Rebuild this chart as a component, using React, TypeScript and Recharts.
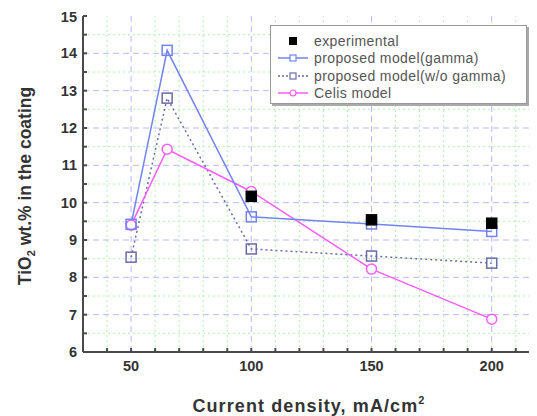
import React from "react"
import { LineChart, Line, XAxis, YAxis, ReferenceLine } from "recharts"

// current density, mA/cm2
const currents = [50, 65, 100, 150, 200]
const experimental = [null, null, 10.17, 9.54, 9.45]
const gammaModel = [9.42, 14.08, 9.62, 9.43, 9.23]
const noGammaModel = [8.54, 12.8, 8.76, 8.57, 8.38]
const celisModel = [9.4, 11.43, 10.3, 8.22, 6.88]

const xMajor = [50, 100, 150, 200]
const xMinor = [40, 60, 70, 80, 90, 110, 120, 130, 140, 160, 170, 180, 190, 210]
const yMajor = [7, 8, 9, 10, 11, 12, 13, 14]
const yMinor = [6.5, 7.5, 8.5, 9.5, 10.5, 11.5, 12.5, 13.5, 14.5]
const xTicks = [40, 50, 60, 70, 80, 90, 100, 110, 120, 130, 140, 150, 160, 170, 180, 190, 200, 210]
const yTicks = [6, 6.5, 7, 7.5, 8, 8.5, 9, 9.5, 10, 10.5, 11, 11.5, 12, 12.5, 13, 13.5, 14, 14.5, 15]

const data = currents.map((c, i) => ({
  current: c,
  experimental: experimental[i],
  gamma: gammaModel[i],
  noGamma: noGammaModel[i],
  celis: celisModel[i],
}))

const FONT = "'Liberation Sans', Arial, sans-serif"
const AXIS = "#4a4a4a"

const BLUE = "#7282f5"
const SLATE = "#6a6aa8"
const PINK = "#ff5cff"

const square = (stroke: string, fill: string, size: number) => (props: any) => {
  const { cx, cy, index } = props
  if (cx == null || cy == null) return <g key={index} />
  return (
    <rect key={index} x={cx - size / 2} y={cy - size / 2} width={size} height={size}
      fill={fill} stroke={stroke} strokeWidth={1.5} />
  )
}

const YTitle = () => (
  <text transform="translate(17,178) rotate(-90)" textAnchor="middle" dominantBaseline="central"
    fontFamily={FONT} fontWeight="bold" fontSize={17.5} fill="#333">
    <tspan>TiO</tspan>
    <tspan fontSize={11} dy={6}>2</tspan>
    <tspan dy={-6}> wt.% in the coating</tspan>
  </text>
)

const XTitle = (props: any) => {
  const { viewBox } = props
  const cx = viewBox.x + viewBox.width / 2
  return (
    <text x={cx} y={404} textAnchor="middle" fontFamily={FONT} fontWeight="bold" fontSize={18}
      fill="#333" letterSpacing={1.1}>
      <tspan>Current density, mA/cm</tspan>
      <tspan fontSize={11} dy={-8}>2</tspan>
    </text>
  )
}

const legendRows = [
  { key: "experimental", label: "experimental" },
  { key: "gamma", label: "proposed model(gamma)" },
  { key: "noGamma", label: "proposed model(w/o gamma)" },
  { key: "celis", label: "Celis model" },
]

const LegendSample = ({ k }: { k: string }) => {
  if (k === "experimental")
    return <svg width={32} height={10}><rect x={12} y={1} width={8} height={8} fill="#000" /></svg>
  if (k === "celis")
    return (
      <svg width={32} height={10}>
        <line x1={1} x2={31} y1={5} y2={5} stroke={PINK} strokeWidth={1.5} />
        <circle cx={16} cy={5} r={3} fill="#fff" stroke={PINK} strokeWidth={1.2} />
      </svg>
    )
  const c = k === "gamma" ? BLUE : SLATE
  return (
    <svg width={32} height={10}>
      <line x1={1} x2={31} y1={5} y2={5} stroke={c} strokeWidth={1.5} strokeDasharray={k === "gamma" ? undefined : "2 2"} />
      <rect x={13} y={2} width={6} height={6} fill="#fff" stroke={c} strokeWidth={1.2} />
    </svg>
  )
}

const LegendBox = () => (
  <div style={{
    position: "absolute", left: 262, top: 17, width: 257, height: 79, background: "#fff",
    border: "1px solid #999", boxShadow: "2px 2px 0 #aaa", boxSizing: "border-box",
    padding: "6px 0 0 6px", fontFamily: FONT, fontSize: 14, color: "#555", letterSpacing: 0.4,
  }}>
    {legendRows.map((r) => (
      <div key={r.key} style={{ display: "flex", alignItems: "center", height: 17.5 }}>
        <LegendSample k={r.key} />
        <span style={{ marginLeft: 5 }}>{r.label}</span>
      </div>
    ))}
  </div>
)

export default function App() {
  return (
    <div style={{ position: "relative", width: 529, height: 408 }}>
      <LineChart width={529} height={408} data={data} margin={{ top: 8, right: 2, left: 0, bottom: 0 }}>
        {yMinor.map((v) => (
          <ReferenceLine key={"ym" + v} y={v} stroke="#b2efb2" strokeDasharray="2 3" />
        ))}
        {xMinor.map((v) => (
          <ReferenceLine key={"xm" + v} x={v} stroke="#b2efb2" strokeDasharray="2 3" />
        ))}
        {yMajor.map((v) => (
          <ReferenceLine key={"yM" + v} y={v} stroke="#b8b8ff" strokeDasharray="6 4" />
        ))}
        {xMajor.map((v) => (
          <ReferenceLine key={"xM" + v} x={v} stroke="#b8b8ff" strokeDasharray="6 4" />
        ))}
        <XAxis dataKey="current" type="number" domain={[30, 218]} ticks={xTicks} allowDataOverflow
          height={64} tickSize={-4} tickMargin={13} stroke={AXIS} strokeWidth={2}
          tickFormatter={(v: number) => (xMajor.includes(v) ? String(v) : "")}
          tick={{ fontFamily: FONT, fontWeight: "bold", fontSize: 14.5, fill: "#333" }}
          label={{ content: (p: any) => <XTitle {...p} /> }} />
        <XAxis xAxisId="top" orientation="top" type="number" domain={[30, 218]} ticks={xTicks}
          height={0} tickSize={-4} tick={false} stroke={AXIS} strokeWidth={2} />
        <YAxis type="number" domain={[6, 15]} ticks={yTicks} width={75} tickSize={-4} tickMargin={10}
          stroke={AXIS} strokeWidth={2}
          tickFormatter={(v: number) => (Number.isInteger(v) ? String(v) : "")}
          tick={{ fontFamily: FONT, fontWeight: "bold", fontSize: 14.5, fill: "#333" }}
          label={{ content: () => <YTitle /> }} />
        <YAxis yAxisId="right" orientation="right" type="number" domain={[6, 15]} ticks={yTicks}
          width={0} tickSize={-4} tick={false} stroke={AXIS} strokeWidth={2} />
        <Line dataKey="noGamma" stroke={SLATE} strokeWidth={1.5} strokeDasharray="2 3"
          dot={square(SLATE, "none", 10)} isAnimationActive={false} />
        <Line dataKey="celis" stroke={PINK} strokeWidth={1.5}
          dot={{ r: 5, fill: "#fff", stroke: PINK, strokeWidth: 1.5 }} isAnimationActive={false} />
        <Line dataKey="gamma" stroke={BLUE} strokeWidth={1.5}
          dot={square(BLUE, "none", 10)} isAnimationActive={false} />
        <Line dataKey="experimental" stroke="none" connectNulls={false}
          dot={square("#000", "#000", 10)} isAnimationActive={false} />
      </LineChart>
      <LegendBox />
    </div>
  )
}
